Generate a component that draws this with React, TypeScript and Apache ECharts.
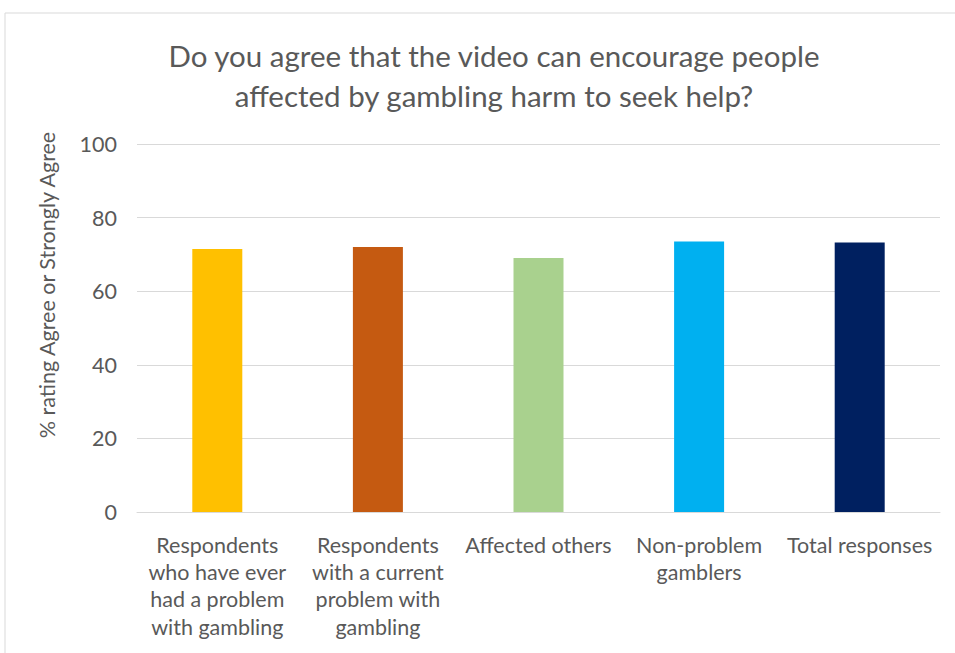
import React, { useEffect, useRef } from "react";
import * as echarts from "echarts";

const categories = [
  "Respondents\nwho have ever\nhad a problem\nwith gambling",
  "Respondents\nwith a current\nproblem with\ngambling",
  "Affected others",
  "Non-problem\ngamblers",
  "Total responses",
];
const values = [71.5, 72.0, 69.0, 73.5, 73.2];
const colors = ["#FFC000", "#C55A11", "#A9D18E", "#00B0F0", "#002060"];
const yTicks = [0, 20, 40, 60, 80, 100];
const titleText = "Do you agree that the video can encourage people\naffected by gambling harm to seek help?";
const yAxisName = "% rating Agree or Strongly Agree";

const FONT = "Lato, 'Open Sans', sans-serif";
const GRAY = "#595959";

export default function App() {
  const ref = useRef<HTMLDivElement>(null);
  useEffect(() => {
    if (!ref.current) return;
    const chart = echarts.init(ref.current, null, { renderer: "svg" });
    chart.setOption({
      animation: false,
      backgroundColor: "#ffffff",
      title: {
        text: titleText,
        left: 489,
        textAlign: "center",
        top: 30,
        textStyle: { fontFamily: FONT, fontSize: 29.5, fontWeight: "normal", color: GRAY, lineHeight: 40 },
      },
      grid: { left: 137, right: 15, top: 144, bottom: 141 },
      xAxis: {
        type: "category",
        data: categories,
        axisLine: { lineStyle: { color: "#d9d9d9", width: 1 } },
        axisTick: { show: false },
        axisLabel: { fontFamily: FONT, fontSize: 21.5, color: GRAY, lineHeight: 27.3, margin: 19, interval: 0, verticalAlign: "top" },
      },
      yAxis: {
        type: "value",
        min: yTicks[0],
        max: yTicks[yTicks.length - 1],
        interval: 20,
        axisLine: { show: false },
        axisTick: { show: false },
        splitLine: { lineStyle: { color: "#d9d9d9", width: 1 } },
        axisLabel: { fontFamily: FONT, fontSize: 21.5, color: GRAY, margin: 20 },
      },
      graphic: [
        {
          type: "rect",
          shape: { x: 5, y: 13, width: 1000, height: 700 },
          style: { fill: "none", stroke: "#d9d9d9", lineWidth: 1 },
          silent: true,
        },
        {
          type: "text",
          x: 47,
          y: 285,
          rotation: Math.PI / 2,
          style: {
            text: yAxisName,
            fontFamily: FONT,
            fontSize: 21.5,
            fill: GRAY,
            align: "center",
            verticalAlign: "middle",
          },
        },
      ],
      series: [
        {
          type: "bar",
          data: values.map((v, i) => ({ value: v, itemStyle: { color: colors[i] } })),
          barWidth: 50,
        },
      ],
    });
    return () => chart.dispose();
  }, []);
  return (
    <div
      ref={ref}
      style={{ position: "fixed", left: 0, top: 0, width: 955, height: 653 }}
    />
  );
}
